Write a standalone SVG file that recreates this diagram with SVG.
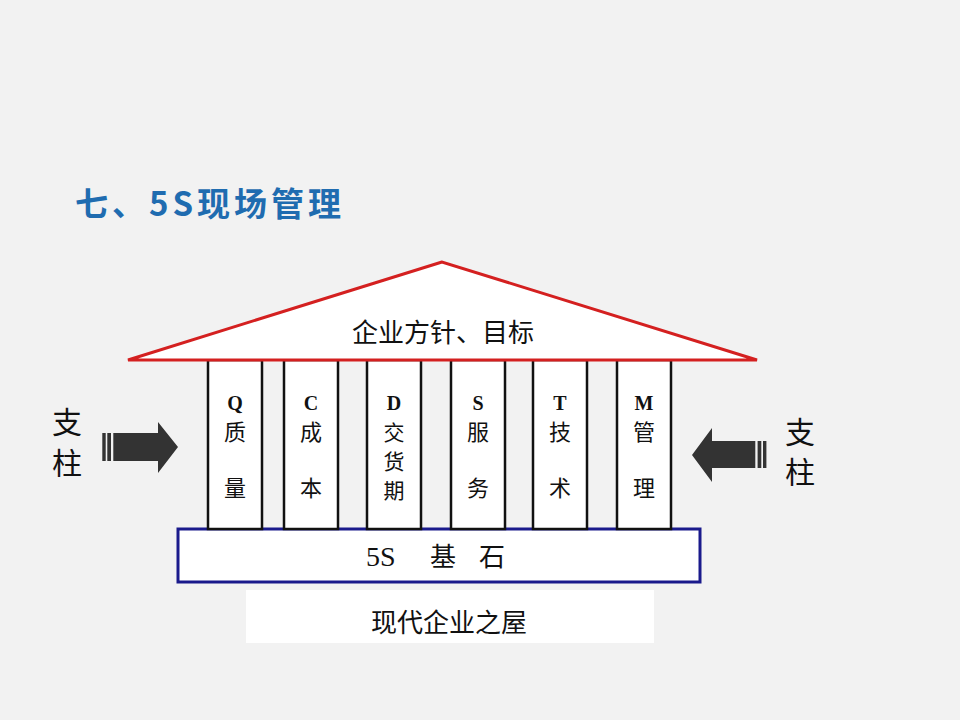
<svg xmlns="http://www.w3.org/2000/svg" width="960" height="720" viewBox="0 0 960 720">
<style>
.cjk{font-family:"Noto Sans CJK SC","Noto Sans CJK JP",sans-serif;fill:#111}
.lat{font-family:"Liberation Serif",serif;font-weight:bold;fill:#111}
.pil{fill:#fff;stroke:#111;stroke-width:2.5}
.arr{fill:#333}
</style>
<rect width="960" height="720" fill="#f2f2f2"/>
<text id="title" x="75" y="216" font-family="Noto Sans CJK SC, sans-serif" font-size="33" font-weight="bold" fill="#1f6cb0" letter-spacing="4">七、5S现场管理</text>
<g id="base">
<rect x="178" y="529" width="522" height="53" fill="#fff" stroke="#1a1a8c" stroke-width="3"/>
<text x="366" y="566" class="lat" style="font-weight:normal" font-size="28">5S</text>
<text x="430" y="566" class="cjk" font-size="26">基</text>
<text x="479" y="566" class="cjk" font-size="26">石</text>
</g>
<g id="pillars">
<g id="pQ"><rect class="pil" x="208" y="360" width="54" height="169"/>
<text class="lat" x="235" y="410" font-size="20" text-anchor="middle">Q</text>
<text class="cjk" x="235" y="440" font-size="22" text-anchor="middle">质</text>
<text class="cjk" x="235" y="496" font-size="22" text-anchor="middle">量</text></g>
<g id="pC"><rect class="pil" x="284" y="360" width="54" height="169"/>
<text class="lat" x="311" y="410" font-size="20" text-anchor="middle">C</text>
<text class="cjk" x="311" y="440" font-size="22" text-anchor="middle">成</text>
<text class="cjk" x="311" y="496" font-size="22" text-anchor="middle">本</text></g>
<g id="pD"><rect class="pil" x="367" y="360" width="54" height="169"/>
<text class="lat" x="394" y="410" font-size="20" text-anchor="middle">D</text>
<text class="cjk" x="394" y="440" font-size="21" text-anchor="middle">交</text>
<text class="cjk" x="394" y="469" font-size="21" text-anchor="middle">货</text>
<text class="cjk" x="394" y="498" font-size="21" text-anchor="middle">期</text></g>
<g id="pS"><rect class="pil" x="451" y="360" width="54" height="169"/>
<text class="lat" x="478" y="410" font-size="20" text-anchor="middle">S</text>
<text class="cjk" x="478" y="440" font-size="22" text-anchor="middle">服</text>
<text class="cjk" x="478" y="496" font-size="22" text-anchor="middle">务</text></g>
<g id="pT"><rect class="pil" x="533" y="360" width="54" height="169"/>
<text class="lat" x="560" y="410" font-size="20" text-anchor="middle">T</text>
<text class="cjk" x="560" y="440" font-size="22" text-anchor="middle">技</text>
<text class="cjk" x="560" y="496" font-size="22" text-anchor="middle">术</text></g>
<g id="pM"><rect class="pil" x="617" y="360" width="54" height="169"/>
<text class="lat" x="644" y="410" font-size="20" text-anchor="middle">M</text>
<text class="cjk" x="644" y="440" font-size="22" text-anchor="middle">管</text>
<text class="cjk" x="644" y="496" font-size="22" text-anchor="middle">理</text></g>
</g>
<g id="roof">
<polygon points="442,262 128,360 757,360" fill="#fff" stroke="#d42020" stroke-width="3" stroke-linejoin="miter"/>
<text class="cjk" x="443" y="342" font-size="26" text-anchor="middle">企业方针、目标</text>
</g>
<g id="house-label">
<rect x="246" y="590" width="408" height="53" fill="#fff"/>
<text class="cjk" x="449" y="632" font-size="26" text-anchor="middle">现代企业之屋</text>
</g>
<g id="connectors">
<g id="arrow-left">
<rect class="arr" x="102.3" y="433" width="3.4" height="28"/>
<rect class="arr" x="107.3" y="433" width="3.7" height="28"/>
<polygon class="arr" points="113.3,433 158,433 158,422 178,447 158,473 158,461 113.3,461"/>
</g>
<g id="arrow-right">
<rect class="arr" x="757.6" y="441" width="3.7" height="27"/>
<rect class="arr" x="763" y="441" width="3.4" height="27"/>
<polygon class="arr" points="755.3,441 712,441 712,428 692,455 712,482 712,468 755.3,468"/>
</g>
</g>
<g id="label-left">
<text class="cjk" x="67" y="433" font-size="30" text-anchor="middle">支</text>
<text class="cjk" x="67" y="474" font-size="30" text-anchor="middle">柱</text>
</g>
<g id="label-right">
<text class="cjk" x="800" y="443" font-size="30" text-anchor="middle">支</text>
<text class="cjk" x="800" y="483" font-size="30" text-anchor="middle">柱</text>
</g>
</svg>
